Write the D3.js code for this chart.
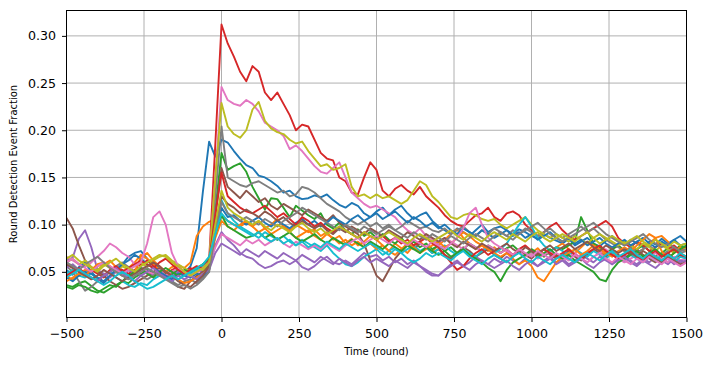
<!DOCTYPE html>
<html>
<head>
<meta charset="utf-8">
<script src="https://cdn.jsdelivr.net/npm/d3@7"></script>
<style>
    body { margin: 0; background: #ffffff; }
    svg { display: block; }
</style>
</head>
<body>
<svg id="drawing_region"></svg>
<script>
// time axis, one sample every 20 rounds
const rounds = d3.range(-500, 1501, 20);
const xTicks = [-500, -250, 0, 250, 500, 750, 1000, 1250, 1500];
const yTicks = [0.05, 0.10, 0.15, 0.20, 0.25, 0.30];

const blueA = [
    .052,.047,.055,.060,.050,.043,.038,.045,.052,.058,
    .066,.070,.072,.064,.058,.055,.050,.047,.052,.048,
    .056,.075,.135,.188,.172,.190,.187,.178,.170,.163,
    .160,.152,.150,.146,.141,.134,.136,.130,.127,.128,
    .131,.129,.132,.126,.121,.118,.123,.120,.112,.108,
    .114,.118,.110,.116,.120,.112,.106,.110,.113,.104,
    .098,.094,.090,.096,.092,.088,.094,.100,.092,.096,
    .098,.094,.090,.095,.092,.088,.085,.090,.086,.083,
    .080,.085,.078,.082,.086,.080,.077,.083,.088,.082,
    .078,.084,.080,.076,.082,.079,.085,.080,.084,.078,
    .080];
const orangeA = [
    .045,.042,.048,.052,.050,.056,.058,.062,.055,.050,
    .054,.060,.068,.064,.058,.052,.050,.055,.057,.054,
    .060,.088,.098,.103,.106,.110,.104,.100,.098,.102,
    .098,.104,.096,.100,.106,.098,.094,.100,.096,.092,
    .095,.088,.092,.084,.088,.080,.085,.078,.082,.088,
    .084,.078,.072,.080,.075,.070,.078,.082,.076,.072,
    .078,.084,.090,.095,.086,.080,.074,.078,.072,.076,
    .070,.074,.068,.072,.066,.070,.075,.068,.072,.076,
    .080,.074,.070,.076,.082,.078,.072,.068,.074,.078,
    .072,.076,.070,.074,.080,.086,.088,.082,.075,.070,
    .066];
const greenA = [
    .036,.034,.038,.040,.035,.030,.028,.032,.036,.040,
    .038,.044,.048,.052,.050,.046,.050,.048,.052,.050,
    .048,.052,.050,.058,.115,.176,.158,.162,.165,.156,
    .140,.128,.116,.128,.127,.118,.108,.120,.115,.110,
    .106,.112,.100,.096,.102,.094,.090,.095,.088,.092,
    .086,.090,.084,.080,.086,.078,.082,.076,.080,.074,
    .078,.072,.076,.070,.074,.080,.076,.072,.078,.074,
    .070,.075,.078,.072,.068,.074,.070,.066,.072,.076,
    .074,.078,.082,.108,.094,.080,.076,.070,.074,.078,
    .072,.068,.074,.078,.072,.066,.070,.075,.072,.078,
    .074];
const redA = [
    .058,.054,.050,.046,.052,.048,.044,.050,.055,.052,
    .048,.052,.058,.062,.056,.050,.046,.052,.055,.050,
    .054,.050,.058,.062,.185,.312,.292,.278,.262,.252,
    .268,.262,.240,.232,.240,.228,.216,.200,.206,.204,
    .190,.176,.170,.168,.150,.146,.134,.132,.150,.166,
    .158,.136,.130,.138,.142,.136,.132,.140,.130,.124,
    .118,.110,.104,.100,.098,.104,.110,.112,.118,.108,
    .104,.112,.114,.110,.100,.094,.088,.092,.098,.102,
    .094,.088,.084,.088,.092,.096,.100,.104,.098,.086,
    .080,.076,.082,.078,.072,.076,.080,.074,.078,.072,
    .076];
const purpleA = [
    .062,.065,.085,.094,.076,.052,.048,.044,.050,.046,
    .052,.048,.055,.050,.046,.052,.048,.044,.050,.046,
    .048,.052,.050,.054,.078,.092,.084,.078,.070,.066,
    .064,.058,.054,.056,.060,.062,.058,.062,.055,.052,
    .056,.062,.066,.060,.058,.062,.058,.064,.070,.066,
    .068,.062,.066,.060,.064,.058,.062,.056,.050,.046,
    .046,.052,.058,.062,.056,.060,.066,.062,.058,.064,
    .060,.066,.062,.058,.064,.060,.056,.062,.066,.060,
    .064,.058,.062,.068,.064,.060,.066,.062,.058,.064,
    .068,.062,.058,.064,.060,.066,.062,.058,.064,.060,
    .062];
const brownA = [
    .107,.096,.078,.062,.055,.050,.046,.040,.036,.032,
    .034,.038,.042,.046,.050,.054,.048,.040,.034,.032,
    .040,.046,.050,.056,.110,.160,.140,.134,.128,.136,
    .130,.124,.128,.120,.116,.122,.118,.114,.110,.116,
    .112,.108,.104,.110,.102,.098,.094,.090,.080,.062,
    .046,.040,.052,.064,.072,.078,.074,.080,.076,.070,
    .074,.068,.064,.070,.076,.072,.066,.070,.074,.068,
    .064,.070,.066,.072,.068,.064,.070,.074,.068,.064,
    .068,.072,.066,.062,.068,.074,.070,.066,.072,.068,
    .064,.070,.074,.068,.064,.060,.066,.070,.064,.068,
    .064];
const pinkA = [
    .066,.062,.058,.055,.060,.066,.072,.080,.076,.070,
    .066,.058,.054,.050,.048,.052,.046,.050,.054,.048,
    .052,.048,.055,.060,.150,.246,.232,.228,.226,.232,
    .228,.220,.208,.204,.200,.194,.180,.184,.178,.170,
    .162,.156,.154,.160,.166,.150,.134,.128,.122,.118,
    .120,.116,.112,.108,.100,.094,.090,.096,.088,.084,
    .080,.086,.082,.078,.074,.080,.076,.072,.078,.074,
    .070,.074,.068,.072,.066,.070,.064,.068,.072,.066,
    .062,.066,.070,.064,.060,.066,.070,.074,.068,.064,
    .060,.064,.068,.062,.066,.070,.064,.060,.066,.062,
    .064];
const grayA = [
    .056,.050,.040,.030,.034,.040,.046,.050,.056,.060,
    .055,.050,.046,.042,.046,.050,.044,.040,.036,.040,
    .042,.038,.044,.050,.130,.204,.150,.146,.142,.140,
    .144,.146,.142,.138,.134,.136,.130,.132,.140,.138,
    .134,.128,.122,.118,.114,.108,.104,.100,.104,.098,
    .102,.096,.100,.094,.098,.104,.100,.096,.098,.094,
    .092,.096,.090,.094,.098,.092,.088,.094,.090,.096,
    .092,.088,.094,.090,.096,.092,.088,.092,.096,.090,
    .086,.090,.094,.098,.092,.096,.090,.084,.080,.076,
    .072,.076,.070,.074,.078,.072,.068,.072,.076,.070,
    .072];
const oliveA = [
    .060,.064,.058,.062,.055,.052,.058,.054,.050,.056,
    .052,.056,.060,.055,.062,.066,.068,.062,.058,.054,
    .050,.054,.052,.060,.150,.229,.204,.196,.192,.200,
    .222,.230,.210,.202,.198,.196,.190,.186,.188,.178,
    .170,.162,.164,.158,.160,.164,.140,.130,.132,.128,
    .132,.128,.130,.126,.122,.126,.136,.146,.142,.130,
    .124,.116,.108,.106,.110,.112,.110,.106,.104,.106,
    .100,.096,.100,.104,.108,.100,.094,.090,.086,.090,
    .086,.082,.088,.084,.080,.086,.090,.086,.082,.078,
    .082,.078,.074,.080,.076,.072,.078,.074,.070,.076,
    .074];
const cyanA = [
    .048,.052,.046,.044,.048,.042,.046,.050,.044,.040,
    .036,.034,.038,.036,.042,.046,.044,.040,.046,.050,
    .048,.052,.056,.062,.096,.126,.112,.104,.098,.094,
    .090,.086,.092,.088,.084,.088,.082,.078,.084,.080,
    .076,.072,.078,.070,.064,.058,.056,.060,.066,.070,
    .074,.068,.072,.076,.070,.074,.078,.072,.076,.070,
    .074,.078,.072,.068,.074,.070,.066,.072,.076,.070,
    .074,.080,.090,.100,.108,.098,.086,.078,.072,.076,
    .072,.068,.074,.070,.066,.072,.068,.064,.070,.066,
    .062,.068,.064,.060,.066,.062,.068,.064,.060,.066,
    .064];
const blueB = [
    .044,.040,.046,.050,.048,.044,.040,.046,.052,.058,
    .062,.068,.064,.058,.054,.050,.046,.042,.048,.046,
    .044,.048,.046,.052,.090,.118,.108,.110,.104,.100,
    .104,.108,.102,.098,.104,.100,.096,.102,.106,.100,
    .104,.098,.102,.108,.104,.100,.106,.110,.104,.108,
    .112,.106,.110,.114,.108,.102,.108,.104,.098,.102,
    .096,.100,.094,.090,.096,.092,.088,.094,.090,.086,
    .090,.094,.088,.092,.086,.090,.084,.088,.092,.086,
    .082,.086,.080,.084,.078,.082,.086,.080,.076,.080,
    .084,.078,.082,.086,.080,.076,.082,.078,.084,.088,
    .082];
const orangeB = [
    .040,.044,.048,.046,.052,.058,.060,.056,.050,.046,
    .044,.050,.066,.070,.062,.056,.050,.046,.042,.038,
    .040,.044,.048,.054,.086,.104,.098,.094,.100,.104,
    .098,.092,.096,.090,.094,.098,.092,.086,.090,.094,
    .088,.084,.090,.086,.080,.084,.078,.082,.076,.080,
    .074,.078,.072,.068,.074,.080,.076,.070,.074,.078,
    .082,.076,.080,.086,.092,.088,.082,.078,.074,.070,
    .066,.070,.064,.058,.062,.056,.044,.040,.050,.060,
    .066,.070,.074,.068,.072,.078,.074,.070,.066,.072,
    .076,.072,.078,.084,.090,.086,.072,.064,.070,.076,
    .072];
const greenB = [
    .034,.032,.036,.034,.030,.028,.032,.036,.034,.040,
    .046,.050,.054,.048,.044,.050,.054,.050,.046,.052,
    .050,.054,.058,.064,.090,.110,.098,.094,.090,.086,
    .088,.092,.086,.090,.084,.088,.092,.086,.082,.086,
    .090,.084,.080,.086,.082,.078,.084,.080,.076,.082,
    .078,.074,.080,.076,.072,.078,.074,.070,.076,.072,
    .068,.072,.066,.070,.074,.068,.064,.060,.054,.050,
    .040,.052,.060,.064,.068,.072,.066,.070,.074,.068,
    .064,.068,.062,.058,.054,.050,.042,.040,.052,.060,
    .064,.068,.072,.066,.070,.074,.068,.064,.070,.074,
    .078];
const redB = [
    .046,.050,.054,.048,.044,.040,.046,.052,.056,.050,
    .054,.058,.062,.058,.054,.060,.064,.058,.052,.048,
    .052,.056,.054,.062,.110,.155,.130,.124,.118,.114,
    .112,.116,.120,.114,.108,.112,.106,.100,.108,.104,
    .098,.102,.096,.092,.098,.094,.090,.086,.092,.088,
    .084,.088,.082,.086,.080,.084,.078,.082,.086,.080,
    .076,.068,.060,.052,.056,.064,.070,.074,.068,.072,
    .076,.072,.068,.074,.078,.072,.068,.074,.070,.066,
    .070,.074,.068,.064,.070,.074,.078,.072,.068,.064,
    .068,.072,.066,.062,.068,.072,.066,.070,.074,.068,
    .066];
const purpleB = [
    .054,.058,.052,.048,.044,.040,.046,.050,.054,.048,
    .044,.040,.046,.050,.054,.048,.044,.040,.046,.042,
    .046,.042,.048,.052,.070,.080,.076,.072,.068,.074,
    .070,.066,.072,.068,.064,.070,.066,.062,.068,.064,
    .060,.066,.062,.058,.064,.060,.056,.062,.066,.060,
    .064,.060,.056,.062,.058,.054,.060,.056,.052,.048,
    .046,.052,.056,.060,.056,.052,.058,.062,.058,.054,
    .058,.062,.056,.052,.058,.062,.056,.060,.064,.058,
    .062,.056,.060,.064,.058,.054,.060,.064,.058,.062,
    .066,.060,.056,.062,.058,.054,.060,.064,.058,.062,
    .060];
const brownB = [
    .058,.054,.050,.046,.042,.046,.052,.048,.044,.040,
    .044,.048,.052,.056,.060,.056,.050,.046,.040,.036,
    .034,.040,.046,.056,.100,.130,.122,.118,.112,.116,
    .112,.108,.114,.110,.104,.108,.102,.098,.104,.100,
    .096,.100,.094,.090,.096,.092,.098,.094,.090,.096,
    .092,.088,.094,.090,.086,.092,.088,.084,.090,.086,
    .082,.086,.080,.076,.082,.078,.074,.080,.076,.072,
    .076,.080,.074,.070,.076,.072,.068,.074,.078,.072,
    .076,.080,.074,.078,.082,.076,.072,.078,.074,.070,
    .074,.070,.066,.072,.068,.064,.060,.066,.062,.058,
    .060];
const pinkB = [
    .060,.064,.058,.054,.050,.056,.060,.056,.052,.048,
    .052,.056,.060,.080,.108,.114,.100,.070,.056,.050,
    .046,.050,.054,.060,.076,.090,.086,.082,.078,.084,
    .080,.084,.078,.082,.086,.080,.076,.082,.078,.074,
    .078,.074,.080,.076,.072,.078,.082,.086,.080,.084,
    .088,.084,.080,.086,.082,.078,.084,.080,.076,.082,
    .078,.074,.080,.086,.096,.112,.118,.100,.086,.080,
    .076,.072,.068,.074,.070,.066,.072,.068,.064,.070,
    .066,.062,.068,.064,.060,.066,.070,.064,.060,.066,
    .062,.058,.064,.060,.066,.062,.058,.064,.060,.056,
    .060];
const grayB = [
    .060,.056,.052,.058,.062,.066,.060,.054,.050,.046,
    .042,.046,.050,.054,.050,.046,.042,.038,.034,.036,
    .032,.036,.042,.050,.090,.124,.112,.108,.104,.108,
    .104,.100,.106,.102,.098,.104,.108,.112,.118,.114,
    .110,.106,.102,.098,.094,.100,.096,.092,.098,.094,
    .090,.094,.098,.094,.090,.086,.092,.088,.084,.090,
    .086,.082,.088,.084,.080,.086,.090,.086,.082,.088,
    .092,.088,.084,.090,.094,.098,.102,.096,.090,.086,
    .082,.086,.090,.094,.098,.102,.096,.090,.086,.082,
    .078,.082,.086,.090,.084,.080,.076,.080,.076,.072,
    .074];
const oliveB = [
    .064,.068,.062,.058,.054,.050,.056,.060,.064,.058,
    .054,.050,.056,.060,.064,.068,.066,.060,.056,.050,
    .046,.050,.054,.060,.100,.136,.118,.112,.108,.104,
    .100,.104,.098,.094,.100,.096,.092,.098,.102,.096,
    .092,.096,.090,.094,.098,.094,.090,.086,.092,.088,
    .084,.088,.092,.088,.084,.080,.086,.090,.086,.082,
    .086,.090,.094,.088,.084,.090,.086,.082,.088,.092,
    .088,.084,.090,.086,.082,.088,.092,.086,.082,.086,
    .090,.086,.082,.088,.092,.086,.080,.084,.088,.084,
    .080,.084,.088,.082,.078,.084,.080,.076,.082,.078,
    .080];
const cyanB = [
    .044,.048,.052,.048,.044,.040,.036,.040,.046,.050,
    .046,.040,.036,.032,.034,.038,.042,.046,.042,.046,
    .050,.054,.058,.066,.090,.112,.104,.100,.096,.092,
    .088,.092,.086,.082,.086,.080,.084,.078,.082,.076,
    .080,.076,.082,.078,.074,.080,.076,.072,.076,.080,
    .076,.072,.068,.074,.070,.064,.060,.064,.070,.066,
    .070,.066,.062,.068,.072,.066,.062,.058,.064,.068,
    .064,.060,.066,.070,.064,.060,.066,.062,.058,.064,
    .068,.064,.060,.066,.070,.066,.062,.068,.072,.066,
    .070,.074,.068,.064,.070,.066,.062,.068,.064,.070,
    .066];

const seriesList = [blueA, orangeA, greenA, redA, purpleA, brownA, pinkA, grayA, oliveA, cyanA,
                    blueB, orangeB, greenB, redB, purpleB, brownB, pinkB, grayB, oliveB, cyanB];

class LineChart {
    constructor(config, series) {
        this.config = config;
        this.series = series;
        this.init();
    }

    init() {
        let self = this;
        self.svg = d3.select(self.config.parent)
            .attr('width', self.config.width)
            .attr('height', self.config.height)
            .style('font-family', '"DejaVu Sans", sans-serif');

        self.inner_width = self.config.width - self.config.margin.left - self.config.margin.right;
        self.inner_height = self.config.height - self.config.margin.top - self.config.margin.bottom;

        self.chart = self.svg.append('g')
            .attr('transform', `translate(${self.config.margin.left},${self.config.margin.top})`);

        self.xscale = d3.scaleLinear()
            .domain([-500, 1500])
            .range([0, self.inner_width]);
        self.yscale = d3.scaleLinear()
            .domain([0.0016, 0.3269])
            .range([self.inner_height, 0]);

        self.chart.append('clipPath').attr('id', 'plot_clip')
            .append('rect')
            .attr('width', self.inner_width)
            .attr('height', self.inner_height);
    }

    render() {
        let self = this;

        // grid
        self.chart.append('g').selectAll('line').data(xTicks).join('line')
            .attr('x1', d => self.xscale(d)).attr('x2', d => self.xscale(d))
            .attr('y1', 0).attr('y2', self.inner_height)
            .attr('stroke', '#b0b0b0').attr('stroke-width', 1);
        self.chart.append('g').selectAll('line').data(yTicks).join('line')
            .attr('y1', d => self.yscale(d)).attr('y2', d => self.yscale(d))
            .attr('x1', 0).attr('x2', self.inner_width)
            .attr('stroke', '#b0b0b0').attr('stroke-width', 1);

        const line = d3.line()
            .x((d, i) => self.xscale(rounds[i]))
            .y(d => self.yscale(d));

        self.chart.append('g')
            .attr('clip-path', 'url(#plot_clip)')
            .selectAll('path')
            .data(self.series)
            .join('path')
            .attr('d', line)
            .attr('fill', 'none')
            .attr('stroke', (d, i) => d3.schemeCategory10[i % 10])
            .attr('stroke-width', 1.9)
            .attr('stroke-linejoin', 'round');

        // frame
        self.chart.append('rect')
            .attr('width', self.inner_width)
            .attr('height', self.inner_height)
            .attr('fill', 'none')
            .attr('stroke', '#000')
            .attr('stroke-width', 1);

        const xaxis = d3.axisBottom(self.xscale)
            .tickValues(xTicks)
            .tickFormat(d3.format('d'))
            .tickSize(4.5)
            .tickPadding(7);
        const yaxis = d3.axisLeft(self.yscale)
            .tickValues(yTicks)
            .tickFormat(d3.format('.2f'))
            .tickSize(4.5)
            .tickPadding(6);

        const xg = self.chart.append('g')
            .attr('transform', `translate(0,${self.inner_height})`)
            .call(xaxis);
        const yg = self.chart.append('g').call(yaxis);
        [xg, yg].forEach(g => {
            g.select('.domain').remove();
            g.selectAll('.tick line').attr('stroke', '#000').attr('stroke-width', 1);
            g.selectAll('.tick text')
                .attr('fill', '#000')
                .style('font-family', '"DejaVu Sans", sans-serif')
                .style('font-size', '12.6px');
        });

        self.svg.append('text')
            .attr('x', self.config.margin.left + self.inner_width / 2)
            .attr('y', 355)
            .attr('text-anchor', 'middle')
            .attr('font-size', '10px')
            .attr('fill', '#000')
            .text('Time (round)');

        self.svg.append('text')
            .attr('transform', `translate(17,${self.config.margin.top + self.inner_height / 2}) rotate(-90)`)
            .attr('text-anchor', 'middle')
            .attr('font-size', '10px')
            .attr('fill', '#000')
            .text('Round Detection Event Fraction');
    }
}

const config = {
    parent: '#drawing_region',
    width: 713,
    height: 367,
    margin: { top: 10.5, right: 26.5, bottom: 49.5, left: 66.5 }
};

const chart = new LineChart(config, seriesList);
chart.render();
</script>
</body>
</html>
